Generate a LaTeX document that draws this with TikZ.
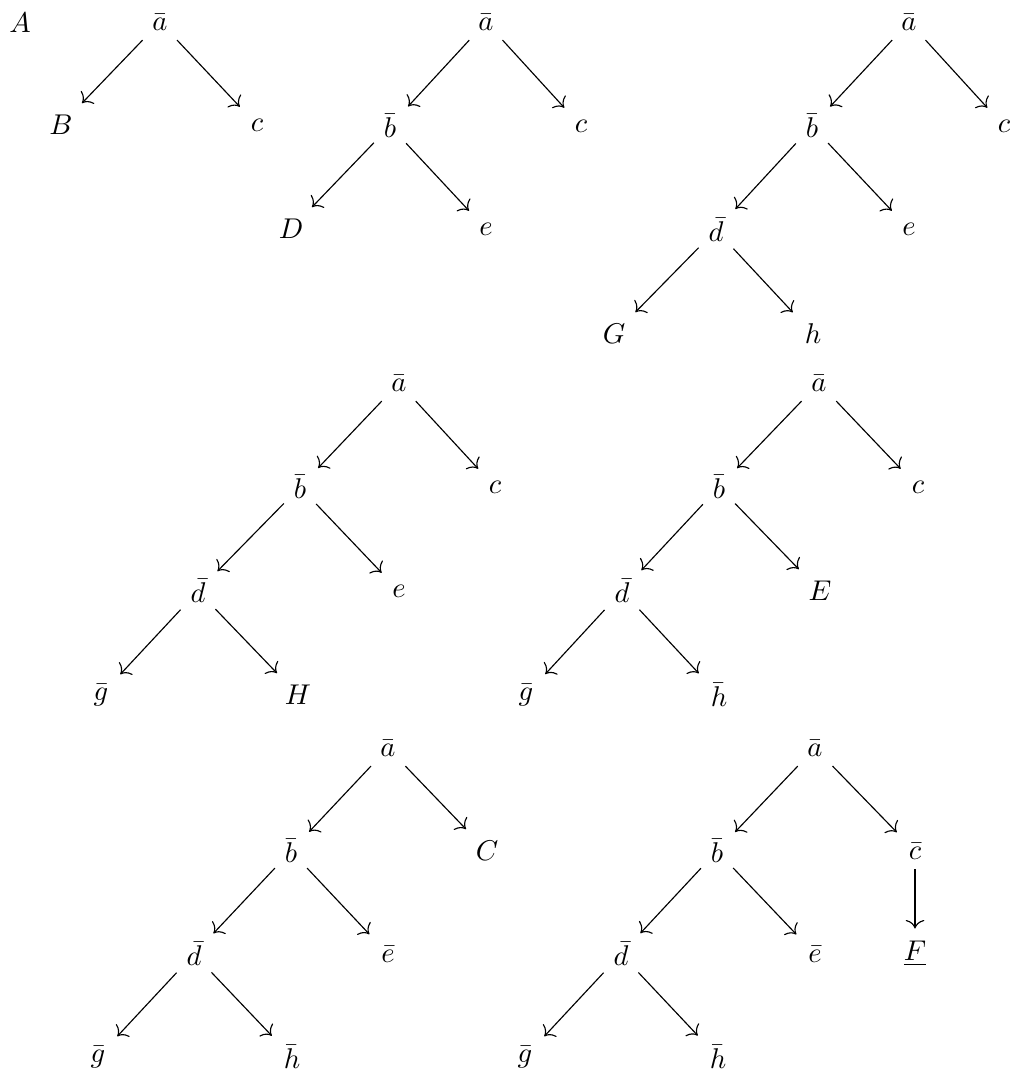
\documentclass[tikz,border=0pt]{standalone}
\usepackage{tikz}
\usetikzlibrary{arrows.meta}

\begin{document}
\begin{tikzpicture}[
  x=0.35pt, y=-0.35pt,
  lf/.style = {inner sep=3.3pt},
  arr/.style = {-{To[length=3pt,width=6.5pt]}, shorten >=1pt}
]
  \useasboundingbox (0,0) rectangle (1011,1077);
  \node[lf] (lblA) at (20,23) {$A$};

  % tree 1
  \begin{scope}[shift={(160,22)}]
    \node[lf] (a1) at (0,0) {$\bar a$};
    \node[lf] (b1) at (-99,103) {$B$};
    \node[lf] (c1) at (97,103) {$c$};
  \end{scope}

  % tree 2
  \begin{scope}[shift={(486,22)}]
    \node[lf] (a2) at (0,0) {$\bar a$};
    \node[lf] (b2) at (-96,104) {$\bar b$};
    \node[lf] (c2) at (95,104) {$c$};
    \node[lf] (d2) at (-195,207) {$D$};
    \node[lf] (e2) at (0,207) {$e$};
  \end{scope}

  % tree 3
  \begin{scope}[shift={(909,22)}]
    \node[lf] (a3) at (0,0) {$\bar a$};
    \node[lf] (b3) at (-97,104) {$\bar b$};
    \node[lf] (c3) at (95,104) {$c$};
    \node[lf] (d3) at (-193,208) {$\bar d$};
    \node[lf] (e3) at (0,207) {$e$};
    \node[lf] (g3) at (-295,312) {$G$};
    \node[lf] (h3) at (-96,312) {$h$};
  \end{scope}

  % tree 4
  \begin{scope}[shift={(399,383)}]
    \node[lf] (a4) at (0,0) {$\bar a$};
    \node[lf] (b4) at (-99,104) {$\bar b$};
    \node[lf] (c4) at (96,104) {$c$};
    \node[lf] (d4) at (-201,208) {$\bar d$};
    \node[lf] (e4) at (0,208) {$e$};
    \node[lf] (g4) at (-298,312) {$\bar g$};
    \node[lf] (h4) at (-101,312) {$H$};
  \end{scope}

  % tree 5
  \begin{scope}[shift={(819,383)}]
    \node[lf] (a5) at (0,0) {$\bar a$};
    \node[lf] (b5) at (-100,104) {$\bar b$};
    \node[lf] (c5) at (99,104) {$c$};
    \node[lf] (d5) at (-197,208) {$\bar d$};
    \node[lf] (e5) at (1,208) {$E$};
    \node[lf] (g5) at (-293,312) {$\bar g$};
    \node[lf] (h5) at (-100,312) {$\bar h$};
  \end{scope}

  % tree 6
  \begin{scope}[shift={(388,748)}]
    \node[lf] (a6) at (0,0) {$\bar a$};
    \node[lf] (b6) at (-97,103) {$\bar b$};
    \node[lf] (c6) at (99,103) {$C$};
    \node[lf] (d6) at (-194,206) {$\bar d$};
    \node[lf] (e6) at (0,206) {$\bar e$};
    \node[lf] (g6) at (-290,309) {$\bar g$};
    \node[lf] (h6) at (-96,309) {$\bar h$};
  \end{scope}

  % tree 7
  \begin{scope}[shift={(815,748)}]
    \node[lf] (a7) at (0,0) {$\bar a$};
    \node[lf] (b7) at (-98,103) {$\bar b$};
    \node[lf] (c7) at (100,103) {$\bar c$};
    \node[lf] (d7) at (-194,206) {$\bar d$};
    \node[lf] (e7) at (0,206) {$\bar e$};
    \node[lf] (f7) at (100,206) {$\underline{F}$};
    \node[lf] (g7) at (-290,309) {$\bar g$};
    \node[lf] (h7) at (-97,309) {$\bar h$};
  \end{scope}

  % edges
  \foreach \u/\v in {a1/b1, a1/c1,
                     a2/b2, a2/c2, b2/d2, b2/e2}
    \draw[arr] (\u) -- (\v);
  \foreach \t in {3,4,5,6,7}
    \foreach \u/\v in {a/b, a/c, b/d, b/e, d/g, d/h}
      \draw[arr] (\u\t) -- (\v\t);
  \draw[arr] (c7) -- (f7);
\end{tikzpicture}
\end{document}
